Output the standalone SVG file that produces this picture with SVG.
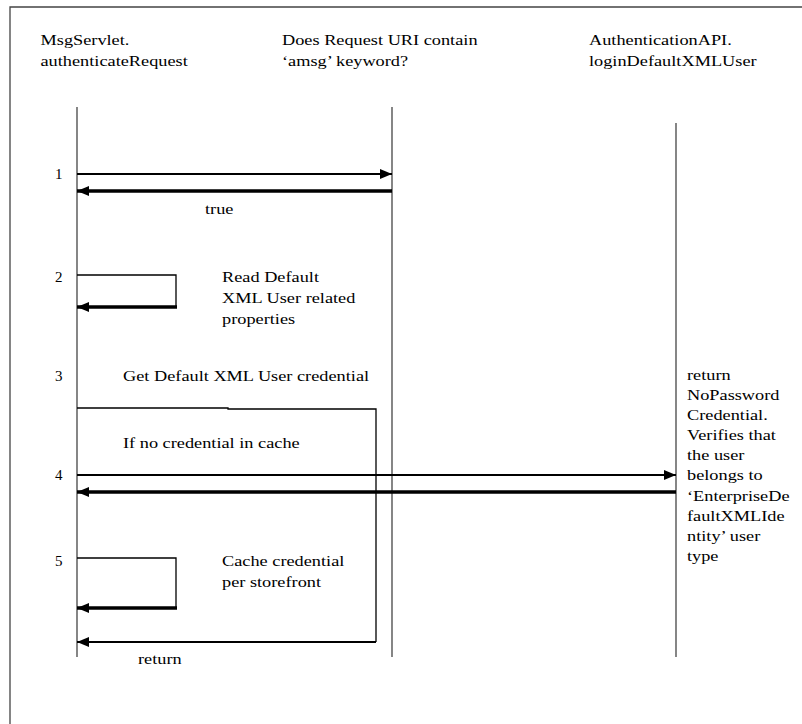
<svg xmlns="http://www.w3.org/2000/svg" width="802" height="724" viewBox="0 0 802 724">
<style>
  .t { font-family: "Liberation Serif", "Times New Roman", serif; font-size: 15px; fill: #000; }
  .frame { stroke: #444; stroke-width: 1.3; fill: none; }
  .life { stroke: #444; stroke-width: 1.3; fill: none; }
  .m { stroke: #000; fill: none; }
  .thin { stroke-width: 1.3; }
  .med { stroke-width: 2.2; }
  .thick { stroke-width: 3.5; }
</style>
<defs>
  <marker id="ah" markerUnits="userSpaceOnUse" markerWidth="12" markerHeight="12" viewBox="0 0 12 12" refX="12" refY="6" orient="auto">
    <path d="M0,1 L12,6 L0,11 Z" fill="#000"/>
  </marker>
</defs>
<rect width="802" height="724" fill="#fff"/>
<g id="frame">
  <path class="frame" d="M10,724 L10,7 L802,7"/>
</g>
<g id="lifeline-msgservlet">
  <line class="life" x1="77" y1="107" x2="77" y2="657"/>
  <text class="t" transform="translate(40.5 45) scale(1.22 1)">MsgServlet.<tspan x="0" dy="21">authenticateRequest</tspan></text>
</g>
<g id="lifeline-requesturi">
  <line class="life" x1="392" y1="107" x2="392" y2="657"/>
  <text class="t" transform="translate(282 45) scale(1.22 1)">Does Request URI contain<tspan x="0" dy="21">‘amsg’ keyword?</tspan></text>
</g>
<g id="lifeline-authapi">
  <line class="life" x1="676" y1="123" x2="676" y2="657"/>
  <text class="t" transform="translate(589 45) scale(1.22 1)">AuthenticationAPI.<tspan x="0" dy="21">loginDefaultXMLUser</tspan></text>
</g>
<g id="cache-box">
  <path class="m thin" d="M77,408 L228,408 L228,409 L376,409 L376,642"/>
  <text class="t" transform="translate(123 448) scale(1.22 1)">If no credential in cache</text>
</g>
<g id="connectors">
  <line class="m med" x1="77" y1="174" x2="392" y2="174" marker-end="url(#ah)"/>
  <line class="m thick" x1="392" y1="191" x2="77" y2="191" marker-end="url(#ah)"/>
  <path class="m thin" d="M77,275 L176,275 L176,307"/>
  <line class="m thick" x1="177" y1="307" x2="77" y2="307" marker-end="url(#ah)"/>
  <line class="m med" x1="77" y1="475" x2="676" y2="475" marker-end="url(#ah)"/>
  <line class="m thick" x1="676" y1="492" x2="77" y2="492" marker-end="url(#ah)"/>
  <path class="m thin" d="M77,558 L176,558 L176,608"/>
  <line class="m thick" x1="177" y1="608" x2="77" y2="608" marker-end="url(#ah)"/>
  <line class="m med" x1="376" y1="642" x2="77" y2="642" marker-end="url(#ah)"/>
</g>
<g id="labels">
  <text class="t" x="55" y="179">1</text>
  <text class="t" transform="translate(205 214) scale(1.22 1)">true</text>
  <text class="t" x="55" y="282">2</text>
  <text class="t" transform="translate(222 282) scale(1.22 1)">Read Default<tspan x="0" dy="21">XML User related</tspan><tspan x="0" dy="21">properties</tspan></text>
  <text class="t" x="55" y="381">3</text>
  <text class="t" transform="translate(123 381) scale(1.22 1)">Get Default XML User credential</text>
  <text class="t" x="55" y="480">4</text>
  <text class="t" x="55" y="566">5</text>
  <text class="t" transform="translate(222 566) scale(1.22 1)">Cache credential<tspan x="0" dy="21">per storefront</tspan></text>
  <text class="t" transform="translate(138 664) scale(1.22 1)">return</text>
  <text class="t" transform="translate(687 380) scale(1.22 1)">return<tspan x="0" dy="20.1">NoPassword</tspan><tspan x="0" dy="20.1">Credential.</tspan><tspan x="0" dy="20.1">Verifies that</tspan><tspan x="0" dy="20.1">the user</tspan><tspan x="0" dy="20.1">belongs to</tspan><tspan x="0" dy="20.1">‘EnterpriseDe</tspan><tspan x="0" dy="20.1">faultXMLIde</tspan><tspan x="0" dy="20.1">ntity’ user</tspan><tspan x="0" dy="20.1">type</tspan></text>
</g>
</svg>
